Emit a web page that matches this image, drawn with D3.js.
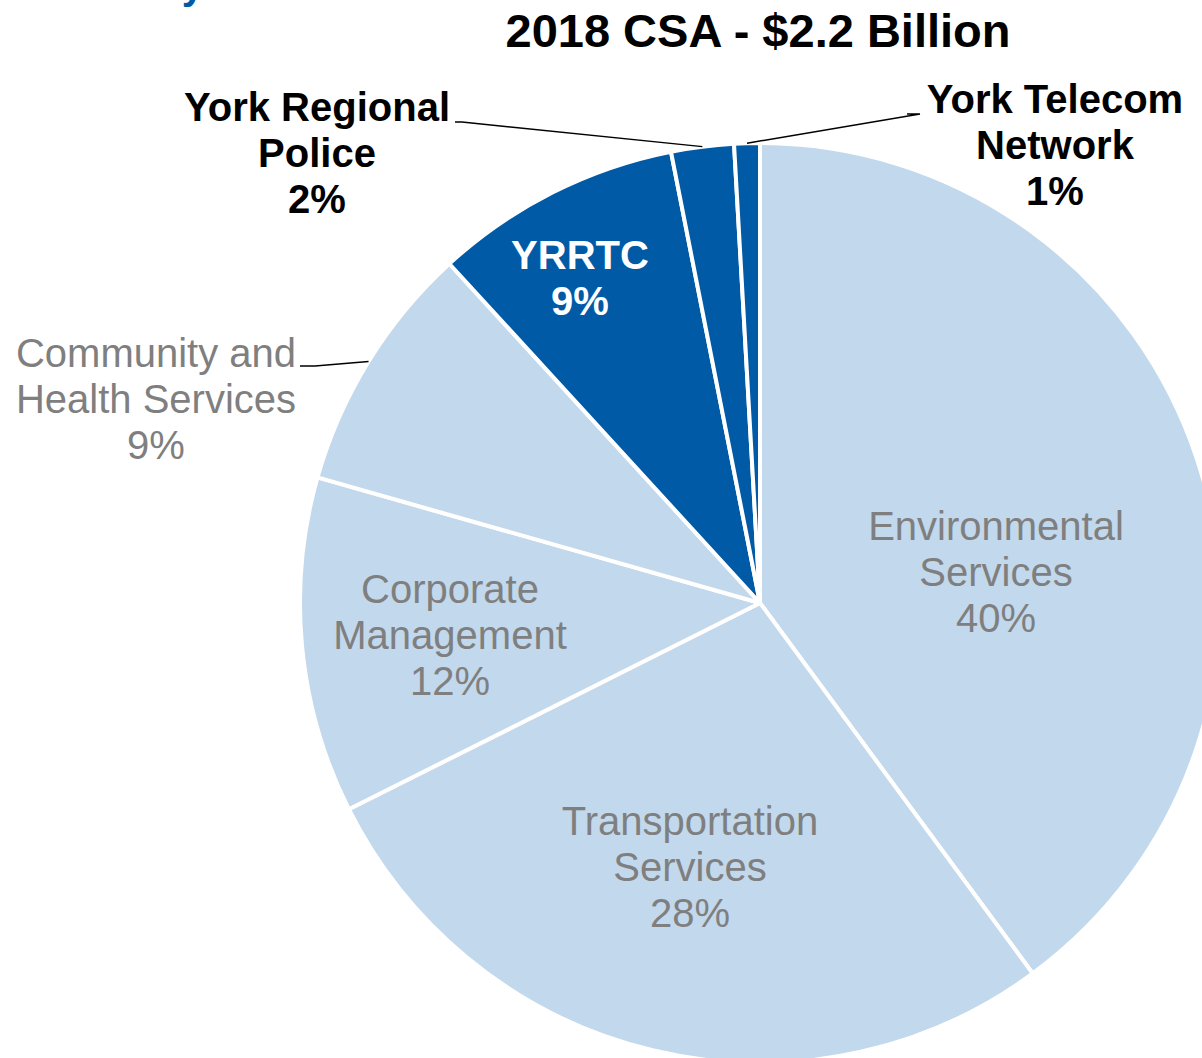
<!DOCTYPE html>
<html>
<head>
<meta charset="utf-8">
<script src="https://cdn.jsdelivr.net/npm/d3@7"></script>
<style>
  body { margin: 0; background: #fff; }
  svg { display: block; font-family: "Liberation Sans", Arial, sans-serif; }
</style>
</head>
<body>
<svg width="1202" height="1058"></svg>
<script>
// data, clockwise from 12 o'clock
const categories = ["Environmental Services", "Transportation Services", "Corporate Management",
    "Community and Health Services", "YRRTC", "York Regional Police", "York Telecom Network"];
const shares = [39.9, 27.7, 11.8, 8.8, 8.7, 2.2, 0.9];
const shareLabels = ["40%", "28%", "12%", "9%", "9%", "2%", "1%"];
const labelLines = [["Environmental", "Services"], ["Transportation", "Services"], ["Corporate", "Management"],
    ["Community and", "Health Services"], ["YRRTC"], ["York Regional", "Police"], ["York Telecom", "Network"]];
const group = ["light", "light", "light", "light", "dark", "dark", "dark"];

// layout
const cx = 760, cy = 603, radius = 460;
const colors = {light: "#c2d8ec", dark: "#005aa6"};
// label anchor (first line baseline) relative to pie centre, and whether it sits outside
const labelPos = [
    {x: 236, y: -63, out: false},
    {x: -70, y: 232, out: false},
    {x: -310, y: 0, out: false},
    {x: -604, y: -236, out: true, end: [-460, -237], elbow: [-445, -237]},
    {x: -180, y: -334, out: false},
    {x: -443, y: -482, out: true, end: [-305, -481], elbow: [-298, -481]},
    {x: 295, y: -490, out: true, end: [147, -489], elbow: [160, -489]}
];

let svg = d3.select("svg");

// cut-off heading above the page edge
svg.append("text")
    .attr("x", 204).attr("y", -1)
    .attr("text-anchor", "end")
    .attr("font-size", 40).attr("font-weight", "bold")
    .attr("fill", "#005aa6")
    .text("Summary");

svg.append("text")
    .attr("x", 758).attr("y", 47)
    .attr("text-anchor", "middle")
    .attr("font-size", 47).attr("font-weight", "bold")
    .attr("fill", "#000")
    .text("2018 CSA - $2.2 Billion");

let data = categories.map(function (c, i) {
    return {name: c, value: shares[i], pct: shareLabels[i], lines: labelLines[i], grp: group[i], pos: labelPos[i]};
});

let pie = d3.pie().sort(null).value(function (d) { return d.value; });
let arc = d3.arc().innerRadius(0).outerRadius(radius);
let edgeArc = d3.arc().innerRadius(radius).outerRadius(radius);

let g = svg.append("g").attr("transform", "translate(" + cx + "," + cy + ")");
let arcs = pie(data);

g.selectAll(".slice")
    .data(arcs)
    .enter().append("path")
    .attr("class", "slice")
    .attr("d", arc)
    .attr("fill", function (d) { return colors[d.data.grp]; })
    .attr("stroke", "#fff")
    .attr("stroke-width", 4)
    .attr("stroke-linejoin", "round");

// leader lines
g.selectAll(".leader")
    .data(arcs.filter(function (d) { return d.data.pos.out; }))
    .enter().append("polyline")
    .attr("class", "leader")
    .attr("fill", "none")
    .attr("stroke", "#000")
    .attr("stroke-width", 1.5)
    .attr("points", function (d) {
        let p = edgeArc.centroid(d);
        return [p, d.data.pos.elbow, d.data.pos.end].map(function (q) { return q.join(","); }).join(" ");
    });

let labels = g.selectAll(".label")
    .data(arcs)
    .enter().append("text")
    .attr("class", "label")
    .attr("text-anchor", "middle")
    .attr("font-size", 40)
    .attr("font-weight", function (d) { return d.data.grp === "dark" ? "bold" : "normal"; })
    .attr("fill", function (d) {
        if (d.data.grp === "light") return "#7f7f7f";
        return d.data.pos.out ? "#000" : "#fff";
    });

labels.each(function (d) {
    let t = d3.select(this);
    let lines = d.data.lines.concat([d.data.pct]);
    lines.forEach(function (s, i) {
        t.append("tspan")
            .attr("x", d.data.pos.x)
            .attr("y", d.data.pos.y + i * 46)
            .text(s);
    });
});
</script>
</body>
</html>
